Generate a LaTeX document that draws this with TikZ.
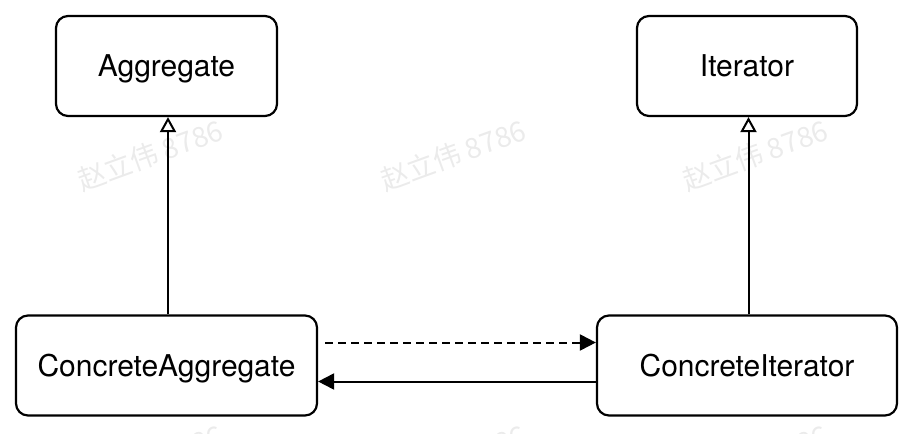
\documentclass[tikz,border=0pt]{standalone}
\usepackage{fontspec}
\setmainfont{TeX Gyre Heros}
\newfontfamily\cjk{Noto Sans CJK SC}
\usetikzlibrary{arrows.meta}
\begin{document}
\begin{tikzpicture}[x=1pt,y=-1pt,
  cls/.style={draw=black, line width=2.2pt, rounded corners=12pt, fill=white,
    minimum height=100pt, inner sep=0pt, text height=21.5pt, text depth=0pt,
    font=\fontsize{30}{36}\selectfont},
  inherit/.style={line width=2pt, -{Triangle[open, length=15pt, width=16pt, line width=2pt]}},
  assoc/.style={line width=2pt, -{Triangle[length=16pt, width=16pt]}},
  wm/.style={text=black!8, rotate=20, font=\cjk\fontsize{28}{30}\selectfont}]
\useasboundingbox (0,0) rectangle (914,434);
\begin{scope}
\clip (0,0) rectangle (914,434);
\foreach \wx/\wy [count=\i] in {150/155, 453/155, 755/155, 150/460, 453/460, 755/460}
  \node[wm] (wm\i) at (\wx,\wy) {赵立伟 8786};
\end{scope}
\node[cls, minimum width=221pt] (agg) at (166.5,66) {Aggregate};
\node[cls, minimum width=220pt] (it) at (747,66) {Iterator};
\node[cls, minimum width=301pt] (ca) at (166.5,365.5) {ConcreteAggregate};
\node[cls, minimum width=300pt] (ci) at (747,365.5) {ConcreteIterator};
\draw[inherit] ([xshift=1.5pt]ca.north) -- ([xshift=1.5pt]agg.south);
\draw[inherit] ([xshift=1.5pt]ci.north) -- ([xshift=1.5pt]it.south);
\draw[assoc, dash pattern=on 8pt off 5pt] ([xshift=7pt,yshift=23pt]ca.east) -- ([yshift=23pt]ci.west);
\draw[assoc] ([yshift=-16pt]ci.west) -- ([yshift=-16pt]ca.east);
\end{tikzpicture}
\end{document}
